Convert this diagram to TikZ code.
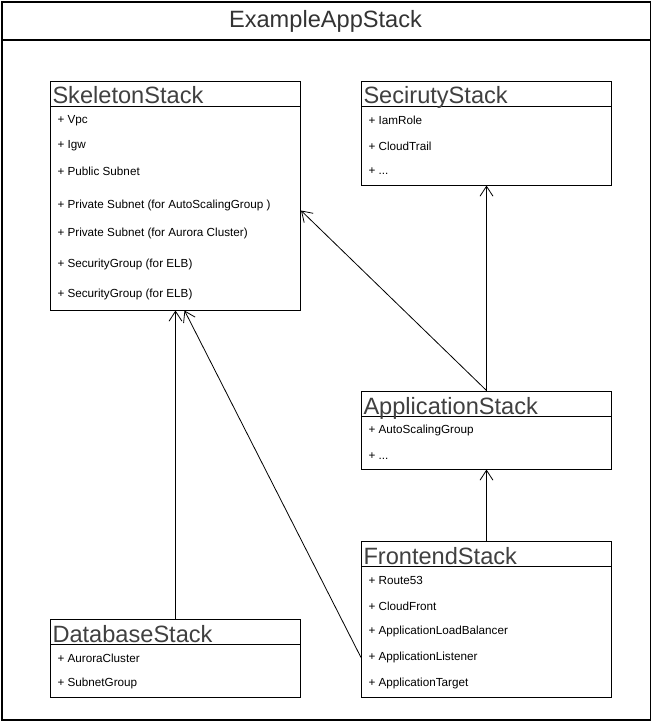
\documentclass[tikz,border=0pt]{standalone}
\usepackage{fontspec}
\setmainfont{Liberation Sans}
\usetikzlibrary{arrows.meta}

\newcommand{\moreitems}{...}
\tikzset{
    stackbox/.style={draw, anchor=north west, minimum width=250pt, inner sep=0pt},
    stacktitle/.style={anchor=base west, inner sep=0pt, text=black!75,
        font=\fontsize{23.6}{25}\selectfont},
    member/.style={anchor=west, inner sep=0pt, font=\fontsize{11.7}{13}\selectfont},
    dep/.style={-{Straight Barb[length=10pt,width=13pt]}, line width=0.8pt}
}

\begin{document}
\begin{tikzpicture}[x=1pt, y=-1pt, line width=1pt]
            % the frame
            \path[use as bounding box] (0,0) rectangle (651,721);
            \node[draw, line width=1.5pt, anchor=north west, minimum width=649pt,
                minimum height=718pt, inner sep=0pt] (frame) at (1,1) {};
            \draw[line width=1.5pt] (1,40) -- (650,40);
            \node[font=\fontsize{23.6}{25}\selectfont, text=black!80] (frametitle)
                at (325.5,21) {ExampleAppStack};

            % skeleton stack
            \node[stackbox, minimum height=229pt] (skel) at (50,80.5) {};
            \draw (50,106) -- (300,106);
            \node[stacktitle] (skeltitle) at (52,103.5) {SkeletonStack};
            \foreach \y/\t [count=\i] in {120.5/Vpc, 146/Igw, 171.5/Public Subnet,
                    205/Private Subnet (for AutoScalingGroup ),
                    233/Private Subnet (for Aurora Cluster),
                    264.5/SecurityGroup (for ELB), 294.5/SecurityGroup (for ELB)} {
                \node[member] (skel\i) at (57,\y) {+ \t};
            };

            % security stack
            \node[stackbox, minimum height=104pt] (sec) at (361,80.5) {};
            \draw (361,106) -- (611,106);
            \node[stacktitle] (sectitle) at (363,103.5) {SecirutyStack};
            \foreach \y/\t [count=\i] in {120.5/IamRole, 146/CloudTrail, 171.5/\moreitems} {
                \node[member] (sec\i) at (368,\y) {+ \t};
            };

            % application stack
            \node[stackbox, minimum height=78pt] (app) at (361,390.5) {};
            \draw (361,416.5) -- (611,416.5);
            \node[stacktitle] (apptitle) at (363,414) {ApplicationStack};
            \foreach \y/\t [count=\i] in {430.5/AutoScalingGroup, 456.5/\moreitems} {
                \node[member] (app\i) at (368,\y) {+ \t};
            };

            % frontend stack
            \node[stackbox, minimum height=156pt] (front) at (361,540.5) {};
            \draw (361,566.5) -- (611,566.5);
            \node[stacktitle] (fronttitle) at (363,564) {FrontendStack};
            \foreach \y/\t [count=\i] in {580.5/Route53, 606/CloudFront,
                    631.5/ApplicationLoadBalancer, 657.5/ApplicationListener,
                    683.5/ApplicationTarget} {
                \node[member] (front\i) at (368,\y) {+ \t};
            };

            % database stack
            \node[stackbox, minimum height=78pt] (dbase) at (50,618.5) {};
            \draw (50,644.5) -- (300,644.5);
            \node[stacktitle] (dbasetitle) at (52,642) {DatabaseStack};
            \foreach \y/\t [count=\i] in {658.5/AuroraCluster, 683.5/SubnetGroup} {
                \node[member] (dbase\i) at (57,\y) {+ \t};
            };

            % dependencies
            \draw[dep] (dbase.north) -- (skel.south);
            \draw[dep] (front4 -| front.west) -- ([xshift=9pt]skel.south);
            \draw[dep] (app.north) -- ([yshift=-15pt]skel.east);
            \draw[dep] (app.north) -- (sec.south);
            \draw[dep] (front.north) -- (app.south);
        \end{tikzpicture}
\end{document}
